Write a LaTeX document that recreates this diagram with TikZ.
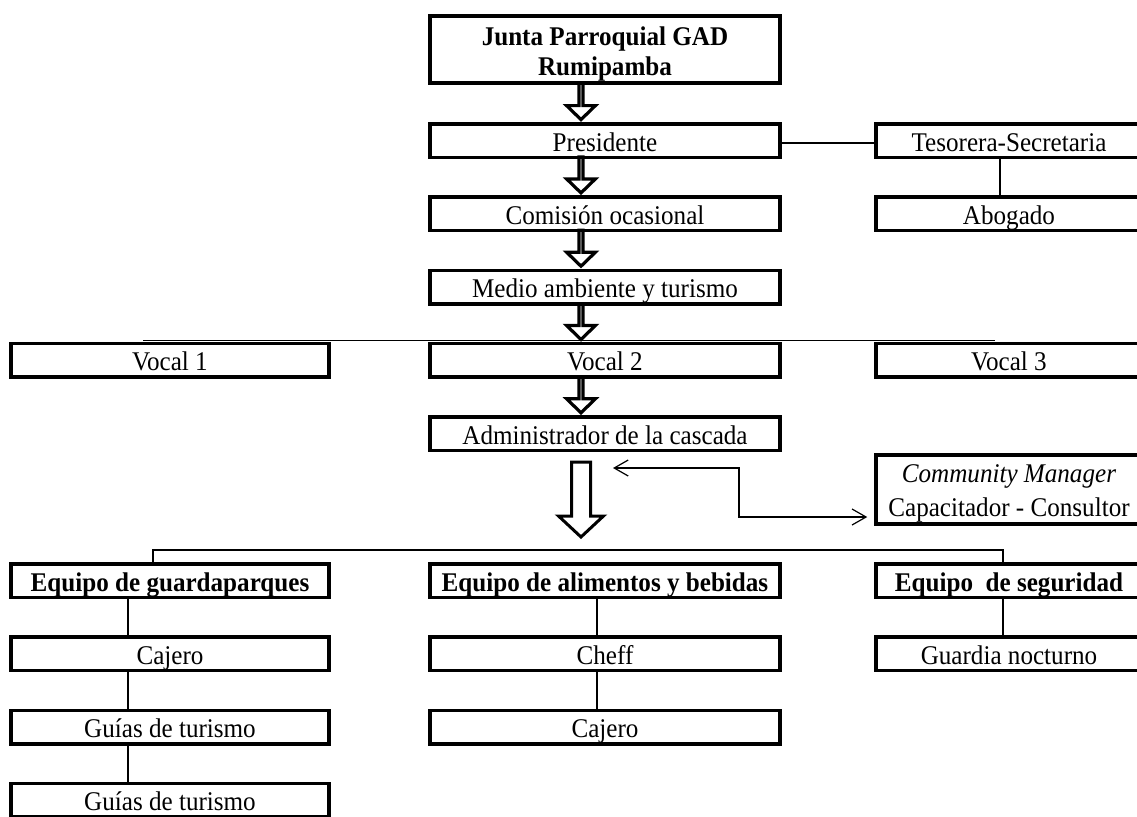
\documentclass[tikz,border=0pt]{standalone}
\usepackage{fontspec}
\setmainfont[FakeStretch=0.93]{Liberation Serif}
\usetikzlibrary{calc, arrows.meta}

% hollow block arrow: style, top point, tip point, shaft half width, head half width, head length
\newcommand{\hollowarrow}[6]{%
  \draw[#1] let \p1=#2, \p2=#3 in
    (\x1-#4,\y1) -- (\x1-#4,\y2+#6) -- (\x1-#5,\y2+#6) -- (\x1,\y2)
    -- (\x1+#5,\y2+#6) -- (\x1+#4,\y2+#6) -- (\x1+#4,\y1) -- cycle;
}

\tikzset{
  box/.style={draw, line width=1.75pt, inner sep=0pt, minimum height=16.75pt,
    align=center, text height=10.5pt, text depth=0pt,
    font=\fontsize{13.5pt}{15pt}\selectfont},
  head/.style={font=\fontsize{13.5pt}{15pt}\selectfont\bfseries},
  colL/.style={box, minimum width=159pt},
  colM/.style={box, minimum width=175pt},
  colR/.style={box, minimum width=133pt},
  link/.style={line width=0.6pt},
  smallarrow/.style={line width=1.6pt, line join=miter},
  bigarrow/.style={line width=1.5pt, line join=miter},
  barb/.style={link, {Straight Barb[length=7pt,width=8pt]}-{Straight Barb[length=7pt,width=8pt]}}
}

\begin{document}
\begin{tikzpicture}[x=0.5pt, y=-0.5pt]
\useasboundingbox (0,0) rectangle (1137,816);

% --- Main chain ---
\node[colM, head, minimum height=33.5pt, text height=25.5pt] (junta) at (605,49.5) {Junta Parroquial GAD\\Rumipamba};
\node[colM] (pres)  at (605,140.5) {Presidente};
\node[colM] (comi)  at (605,213.8) {Comisión ocasional};
\node[colM] (medio) at (605,287.1) {Medio ambiente y turismo};
\node[colM] (voc2)  at (605,360.4) {Vocal 2};
\node[colM] (adm)   at (605,433.7) {Administrador de la cascada};

% --- Side boxes ---
\node[colR] (teso) at (1009,140.5) {Tesorera-Secretaria};
\node[colR] (abog) at (1009,213.8) {Abogado};
\node[colL] (voc1) at (170,360.4) {Vocal 1};
\node[colR] (voc3) at (1009,360.4) {Vocal 3};
\node[colR, minimum height=34.5pt, text height=26.5pt, font=\fontsize{13.5pt}{17pt}\selectfont] (cm) at (1009,489.5)
  {\textit{Community Manager}\\Capacitador - Consultor};

% --- Teams ---
\node[colL, head] (eqL) at (170,580.5) {Equipo de guardaparques};
\node[colM, head] (eqA) at (605,580.5) {Equipo de alimentos y bebidas};
\node[colR, head] (eqS) at (1009,580.5) {Equipo\ \ de seguridad};

\node[colL] (caj1)  at (170,653.8) {Cajero};
\node[colL] (gui1)  at (170,727.1) {Guías de turismo};
\node[colL] (gui2)  at (170,800.4) {Guías de turismo};
\node[colM] (cheff) at (605,653.8) {Cheff};
\node[colM] (caj2)  at (605,727.1) {Cajero};
\node[colR] (guard) at (1009,653.8) {Guardia nocturno};

% --- Hollow arrows down the chain ---
\foreach \a/\b in {junta/pres, pres/comi, comi/medio, medio/voc2, voc2/adm}{
  \hollowarrow{smallarrow}{([xshift=-12pt,yshift=1pt]\a.south)}{([xshift=-12pt,yshift=1.2pt]\b.north)}{1pt}{7.2pt}{7pt}
}
\hollowarrow{bigarrow}{([xshift=-12pt,yshift=-5pt]adm.south)}{([xshift=-12pt,yshift=12.5pt]eqA.north)}{4.75pt}{11.25pt}{10.5pt}

% --- Thin links ---
\draw[link] ([yshift=-1.25pt]pres.east) -- ([yshift=-1.25pt]teso.west);
\draw[link] ([xshift=-4.5pt]teso.south) -- ([xshift=-4.5pt]abog.north);
\draw[link] ([xshift=-13.5pt,yshift=0.75pt]voc1.north) -- ([xshift=-7pt,yshift=0.75pt]voc3.north);

\coordinate (eqbar) at (581,550);
\draw[link] ([xshift=-8.5pt]eqL.north) |- (eqbar) -| ([xshift=-3pt]eqS.north);

\draw[link] ([xshift=-21pt]eqL.south) -- ([xshift=-21pt]caj1.north);
\draw[link] ([xshift=-21pt]caj1.south) -- ([xshift=-21pt]gui1.north);
\draw[link] ([xshift=-21pt]gui1.south) -- ([xshift=-21pt]gui2.north);
\draw[link] ([xshift=-4pt]eqA.south) -- ([xshift=-4pt]cheff.north);
\draw[link] ([xshift=-4pt]cheff.south) -- ([xshift=-4pt]caj2.north);
\draw[link] ([xshift=-3pt]eqS.south) -- ([xshift=-3pt]guard.north);

% --- Community manager link ---
\coordinate (cmtip) at (613,468);
\coordinate (cmbend) at (739,468);
\draw[barb] (cmtip) -- (cmbend) |- ([xshift=-3.5pt,yshift=-13.75pt]cm.west);
\end{tikzpicture}
\end{document}
